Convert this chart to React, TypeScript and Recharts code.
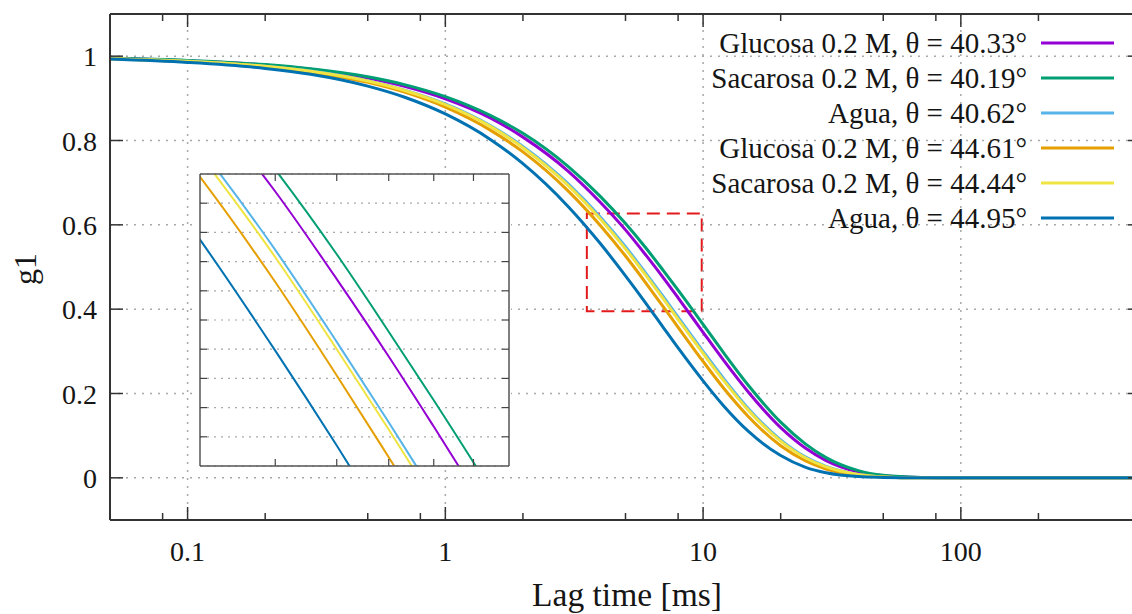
import React from 'react';
import { LineChart, Line, XAxis, YAxis, CartesianGrid, ReferenceLine, ReferenceArea } from 'recharts';

const FONT = '"Liberation Serif", "Times New Roman", serif';
const AXIS = '#333333';
const TEXT = '#151515';
const GRID = '#a8a8a8';

const lagTimes = [0.05, 0.1, 0.2, 0.3, 0.5, 0.7, 1, 1.5, 2, 3, 4, 5, 6, 7, 8, 10, 12, 15, 20, 25, 30, 40, 50, 70, 100, 500];

// g1 values per series
const glucosa4033 = [0.995, 0.989, 0.979, 0.969, 0.948, 0.928, 0.899, 0.853, 0.808, 0.727, 0.653, 0.588, 0.528, 0.475, 0.427, 0.345, 0.279, 0.203, 0.119, 0.070, 0.041, 0.014, 0.005, 0.001, 0, 0];
const sacarosa4019 = [0.995, 0.990, 0.980, 0.970, 0.951, 0.932, 0.904, 0.859, 0.817, 0.738, 0.667, 0.603, 0.545, 0.492, 0.445, 0.364, 0.297, 0.219, 0.132, 0.080, 0.048, 0.017, 0.006, 0.001, 0, 0];
const agua4062 = [0.994, 0.988, 0.976, 0.965, 0.942, 0.919, 0.887, 0.835, 0.786, 0.697, 0.618, 0.548, 0.485, 0.430, 0.381, 0.300, 0.236, 0.164, 0.090, 0.049, 0.027, 0.008, 0.002, 0, 0, 0];
const glucosa4461 = [0.994, 0.987, 0.975, 0.962, 0.938, 0.914, 0.879, 0.824, 0.773, 0.680, 0.598, 0.526, 0.462, 0.406, 0.357, 0.276, 0.213, 0.145, 0.076, 0.040, 0.021, 0.006, 0.002, 0, 0, 0];
const sacarosa4444 = [0.994, 0.988, 0.976, 0.964, 0.941, 0.918, 0.885, 0.833, 0.783, 0.693, 0.613, 0.543, 0.480, 0.425, 0.376, 0.295, 0.231, 0.160, 0.087, 0.047, 0.026, 0.008, 0.002, 0, 0, 0];
const agua4495 = [0.993, 0.985, 0.971, 0.957, 0.929, 0.902, 0.863, 0.802, 0.745, 0.643, 0.555, 0.479, 0.414, 0.357, 0.308, 0.230, 0.171, 0.110, 0.053, 0.025, 0.012, 0.003, 0.001, 0, 0, 0];

const seriesLabels = [
  'Glucosa 0.2 M, θ = 40.33°',
  'Sacarosa 0.2 M, θ = 40.19°',
  'Agua, θ = 40.62°',
  'Glucosa 0.2 M, θ = 44.61°',
  'Sacarosa 0.2 M, θ = 44.44°',
  'Agua, θ = 44.95°',
];
const seriesColors = ['#9400d3', '#009e73', '#56b4e9', '#e69f00', '#f0e442', '#0072b2'];
const seriesValues = [glucosa4033, sacarosa4019, agua4062, glucosa4461, sacarosa4444, agua4495];
const seriesKeys = ['glu4033', 'sac4019', 'agua4062', 'glu4461', 'sac4444', 'agua4495'];

// Axis ticks
const xMajorTicks = [0.1, 1, 10, 100];
const xAllTicks = [0.08, 0.1, 0.2, 0.5, 0.8, 1, 2, 5, 8, 10, 20, 50, 80, 100, 200];
const yTicks = [0, 0.2, 0.4, 0.6, 0.8, 1];
const xDomain = [0.05, 500];
const yDomain = [-0.1, 1.1];

// Inset (zoom) ranges
const insetXDomain = [4, 10];
const insetYDomain = [0.4, 0.6];
const insetXTicks = [5, 6, 7, 8, 9];
const insetYTicks = [0.42, 0.44, 0.46, 0.48, 0.5, 0.52, 0.54, 0.56, 0.58];
const zoomBoxX = [3.54, 9.88];
const zoomBoxY = [0.395, 0.627];

const data = lagTimes.map((t, i) => {
  const row: Record<string, number> = { t };
  seriesKeys.forEach((k, j) => {
    row[k] = seriesValues[j][i];
  });
  return row;
});

const BottomTick = (props: any) => {
  const { x, y, payload } = props;
  const major = xMajorTicks.includes(payload.value);
  return (
    <g>
      <line x1={x} x2={x} y1={y} y2={y - (major ? 13 : 7)} stroke={AXIS} strokeWidth={1.5} />
      {major && (
        <text x={x} y={y + 41} textAnchor="middle" fontSize={28} fontFamily={FONT} fill={TEXT}>
          {String(payload.value)}
        </text>
      )}
    </g>
  );
};

const TopTick = (props: any) => {
  const { x, y, payload } = props;
  const major = xMajorTicks.includes(payload.value);
  return <line x1={x} x2={x} y1={y} y2={y + (major ? 13 : 7)} stroke={AXIS} strokeWidth={1.5} />;
};

const LeftTick = (props: any) => {
  const { x, y, payload } = props;
  return (
    <g>
      <line x1={x} x2={x + 13} y1={y} y2={y} stroke={AXIS} strokeWidth={1.5} />
      <text x={x - 13} y={y + 10} textAnchor="end" fontSize={28} fontFamily={FONT} fill={TEXT}>
        {String(payload.value)}
      </text>
    </g>
  );
};

const RightTick = (props: any) => {
  const { x, y } = props;
  return <line x1={x} x2={x - 13} y1={y} y2={y} stroke={AXIS} strokeWidth={1.5} />;
};

const mkInsetTick = (dir: 'b' | 't' | 'l' | 'r') => (props: any) => {
  const { x, y } = props;
  const L = 7;
  if (dir === 'b') return <line x1={x} x2={x} y1={y} y2={y - L} stroke="#444" strokeWidth={1.2} />;
  if (dir === 't') return <line x1={x} x2={x} y1={y} y2={y + L} stroke="#444" strokeWidth={1.2} />;
  if (dir === 'l') return <line x1={x} x2={x + L} y1={y} y2={y} stroke="#444" strokeWidth={1.2} />;
  return <line x1={x} x2={x - L} y1={y} y2={y} stroke="#444" strokeWidth={1.2} />;
};
const InsetB = mkInsetTick('b');
const InsetT = mkInsetTick('t');
const InsetL = mkInsetTick('l');
const InsetR = mkInsetTick('r');

export default function App() {
  return (
    <div style={{ position: 'relative', width: 1132, height: 614, overflow: 'hidden', background: '#fff' }}>
      <style>{`body{margin:0;background:#fff;}`}</style>
      <LineChart width={1150} height={614} data={data} margin={{ top: 13, right: 8, bottom: 0, left: 0 }}>
        <CartesianGrid vertical={false} stroke={GRID} strokeDasharray="2 6" strokeWidth={1.5} />
        <XAxis
          dataKey="t"
          type="number"
          scale="log"
          domain={xDomain}
          ticks={xAllTicks}
          interval={0}
          allowDataOverflow
          height={94}
          tickSize={0}
          tickMargin={0}
          tickLine={false}
          tick={<BottomTick />}
          axisLine={{ stroke: AXIS, strokeWidth: 2 }}
        />
        <XAxis
          xAxisId="top"
          dataKey="t"
          orientation="top"
          type="number"
          scale="log"
          domain={xDomain}
          ticks={xAllTicks}
          interval={0}
          allowDataOverflow
          height={1}
          tickSize={0}
          tickMargin={0}
          tickLine={false}
          tick={<TopTick />}
          axisLine={{ stroke: AXIS, strokeWidth: 2 }}
        />
        <YAxis
          type="number"
          domain={yDomain}
          ticks={yTicks}
          interval={0}
          allowDataOverflow
          width={110}
          tickSize={0}
          tickMargin={0}
          tickLine={false}
          tick={<LeftTick />}
          axisLine={{ stroke: AXIS, strokeWidth: 2 }}
        />
        <YAxis
          yAxisId="right"
          orientation="right"
          type="number"
          domain={yDomain}
          ticks={yTicks}
          interval={0}
          allowDataOverflow
          width={1}
          tickSize={0}
          tickMargin={0}
          tickLine={false}
          tick={<RightTick />}
          axisLine={{ stroke: AXIS, strokeWidth: 2 }}
        />
        {xMajorTicks.map((v) => (
          <ReferenceLine key={v} x={v} stroke={GRID} strokeDasharray="2 6" strokeWidth={1.5} />
        ))}
        {seriesKeys.map((k, j) => (
          <Line
            key={k}
            dataKey={k}
            type="monotone"
            stroke={seriesColors[j]}
            strokeWidth={3}
            dot={false}
            activeDot={false}
            isAnimationActive={false}
          />
        ))}
        <ReferenceArea
          x1={zoomBoxX[0]}
          x2={zoomBoxX[1]}
          y1={zoomBoxY[0]}
          y2={zoomBoxY[1]}
          fill="none"
          fillOpacity={0}
          stroke="#e31a1c"
          strokeWidth={2}
          strokeDasharray="13 7"
          ifOverflow="visible"
        />
      </LineChart>

      <div style={{ position: 'absolute', left: 198, top: 172, width: 313, height: 296, background: '#fff' }}>
        <LineChart width={313} height={296} data={data} margin={{ top: 1, right: 1, bottom: 1, left: 1 }}>
          <CartesianGrid vertical={false} stroke={GRID} strokeDasharray="2 5" strokeWidth={1.2} />
          <XAxis
            dataKey="t"
            type="number"
            scale="log"
            domain={insetXDomain}
            ticks={insetXTicks}
            interval={0}
            allowDataOverflow
            height={1}
            tickSize={0}
            tickMargin={0}
            tickLine={false}
            tick={<InsetB />}
            axisLine={{ stroke: '#555', strokeWidth: 1.5 }}
          />
          <XAxis
            xAxisId="top"
            dataKey="t"
            orientation="top"
            type="number"
            scale="log"
            domain={insetXDomain}
            ticks={insetXTicks}
            interval={0}
            allowDataOverflow
            height={1}
            tickSize={0}
            tickMargin={0}
            tickLine={false}
            tick={<InsetT />}
            axisLine={{ stroke: '#555', strokeWidth: 1.5 }}
          />
          <YAxis
            type="number"
            domain={insetYDomain}
            ticks={insetYTicks}
            interval={0}
            allowDataOverflow
            width={1}
            tickSize={0}
            tickMargin={0}
            tickLine={false}
            tick={<InsetL />}
            axisLine={{ stroke: '#555', strokeWidth: 1.5 }}
          />
          <YAxis
            yAxisId="right"
            orientation="right"
            type="number"
            domain={insetYDomain}
            ticks={insetYTicks}
            interval={0}
            allowDataOverflow
            width={1}
            tickSize={0}
            tickMargin={0}
            tickLine={false}
            tick={<InsetR />}
            axisLine={{ stroke: '#555', strokeWidth: 1.5 }}
          />
          {seriesKeys.map((k, j) => (
            <Line
              key={k}
              dataKey={k}
              type="monotone"
              stroke={seriesColors[j]}
              strokeWidth={2}
              dot={false}
              activeDot={false}
              isAnimationActive={false}
            />
          ))}
        </LineChart>
      </div>

      <svg
        width={1132}
        height={614}
        style={{ position: 'absolute', left: 0, top: 0, pointerEvents: 'none' }}
      >
        <text x={627} y={606} textAnchor="middle" fontSize={33.5} fontFamily={FONT} fill={TEXT}>
          Lag time [ms]
        </text>
        <text
          transform="translate(36,269) rotate(-90)"
          textAnchor="middle"
          fontSize={32}
          fontFamily={FONT}
          fill={TEXT}
        >
          g1
        </text>
        {seriesLabels.map((lab, j) => {
          const cy = 43 + j * 35;
          return (
            <g key={lab}>
              <text x={1027} y={cy + 10} textAnchor="end" fontSize={29} fontFamily={FONT} fill={TEXT}>
                {lab}
              </text>
              <line x1={1041} x2={1114} y1={cy} y2={cy} stroke={seriesColors[j]} strokeWidth={3} />
            </g>
          );
        })}
      </svg>
    </div>
  );
}
